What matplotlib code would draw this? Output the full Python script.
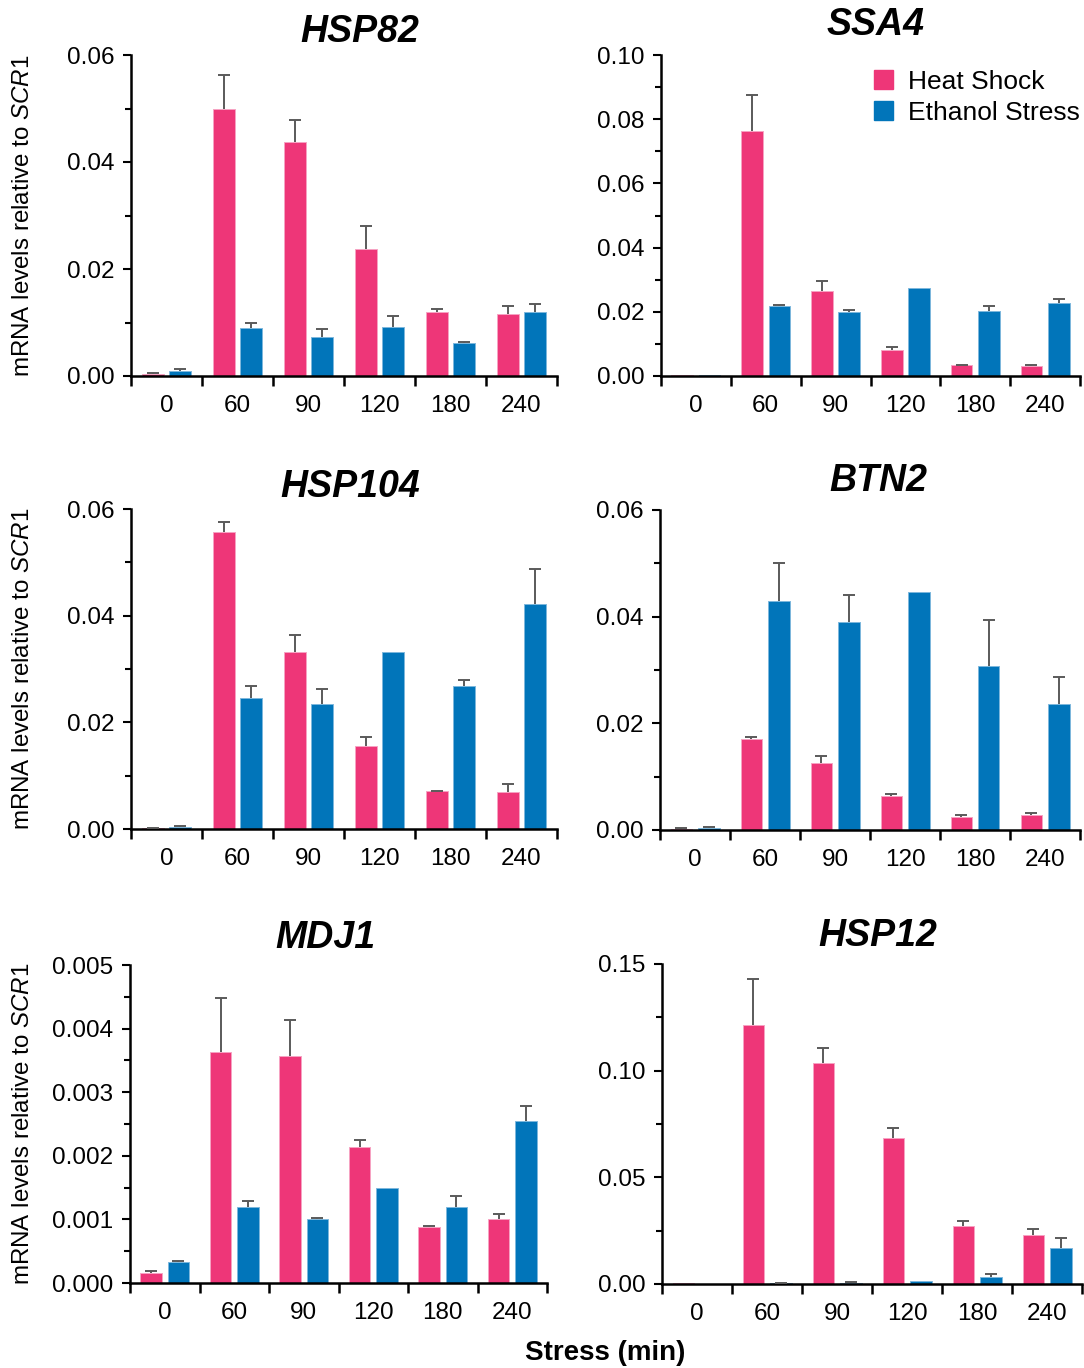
import numpy as np
import matplotlib
matplotlib.use('Agg')
import matplotlib.pyplot as plt
from matplotlib.ticker import MultipleLocator, FormatStrFormatter

plt.rcParams['font.family'] = ['Liberation Sans', 'DejaVu Sans']
plt.rcParams['mathtext.fontset'] = 'custom'
plt.rcParams['mathtext.rm'] = 'Liberation Sans'
plt.rcParams['mathtext.it'] = 'Liberation Sans:italic'

times = ['0', '60', '90', '120', '180', '240']

# HSP82
hsp82_hs = [0.0004, 0.0500, 0.0437, 0.0238, 0.0120, 0.0115]
hsp82_hs_err = [0.00016, 0.0062, 0.0042, 0.0042, 0.0005, 0.0015]
hsp82_et = [0.00093, 0.0090, 0.0072, 0.0092, 0.0062, 0.0119]
hsp82_et_err = [0.0003, 0.0010, 0.0016, 0.0021, 0.0002, 0.0016]

# SSA4
ssa4_hs = [0.0002, 0.0763, 0.0266, 0.0082, 0.0033, 0.0030]
ssa4_hs_err = [0, 0.0111, 0.0029, 0.0007, 0.0002, 0.0003]
ssa4_et = [0.0002, 0.0217, 0.0199, 0.0275, 0.0202, 0.0228]
ssa4_et_err = [0, 0.0003, 0.0006, 0, 0.0017, 0.0012]

# HSP104
hsp104_hs = [0.0002, 0.0557, 0.0331, 0.0156, 0.0071, 0.0070]
hsp104_hs_err = [0.00005, 0.0019, 0.0032, 0.0017, 0.0001, 0.0014]
hsp104_et = [0.00044, 0.0246, 0.0234, 0.0332, 0.0269, 0.0422]
hsp104_et_err = [0.00012, 0.0023, 0.0029, 0, 0.0011, 0.0066]

# BTN2
btn2_hs = [0.0001, 0.0170, 0.0125, 0.0064, 0.0025, 0.0028]
btn2_hs_err = [0.0002, 0.0005, 0.0013, 0.0004, 0.0003, 0.0003]
btn2_et = [0.0003, 0.0430, 0.0390, 0.0446, 0.0307, 0.0237]
btn2_et_err = [0.0003, 0.0070, 0.0051, 0, 0.0087, 0.0050]

# MDJ1
mdj1_hs = [0.000157, 0.003636, 0.003562, 0.002135, 0.000876, 0.001013]
mdj1_hs_err = [0.000037, 0.000839, 0.000572, 0.000121, 0.000021, 0.000078]
mdj1_et = [0.000325, 0.001191, 0.001002, 0.001495, 0.001196, 0.00255]
mdj1_et_err = [0.000021, 0.0001, 0.000021, 0, 0.000168, 0.000236]

# HSP12
hsp12_hs = [0.0003, 0.1216, 0.1034, 0.0683, 0.0270, 0.0230]
hsp12_hs_err = [0, 0.0214, 0.0071, 0.0048, 0.0025, 0.0026]
hsp12_et = [0.0002, 0.0003, 0.0006, 0.0014, 0.0031, 0.0169]
hsp12_et_err = [0, 0.0001, 0.0005, 0, 0.0014, 0.0048]

PINK = '#EE3678'
BLUE = '#0175BA'
W, H = 1084, 1368


def px_box(left, right, top, bottom):
    # pixel box -> figure fraction
    return [left / W, 1 - bottom / H, (right - left) / W, (bottom - top) / H]


def draw_panel(ax, hs, hs_err, et, et_err, ymax, step, fmt):
    x = np.arange(len(times))
    w = 0.31
    off = 0.195
    ax.bar(x - off, hs, w, color=PINK, edgecolor='#F6A3C3', linewidth=0.7, zorder=2)
    ax.bar(x + off, et, w, color=BLUE, edgecolor='#7DB7DD', linewidth=0.7, zorder=2)
    # only upper error bars, skip the ones without error
    for xs, vals, errs in [(x - off, hs, hs_err), (x + off, et, et_err)]:
        vals = np.array(vals)
        errs = np.array(errs)
        m = errs > 0
        eb = ax.errorbar(xs[m], vals[m], yerr=[np.zeros(m.sum()), errs[m]], fmt='none',
                         ecolor='#5A5A5A', elinewidth=1.4, capsize=4.5, capthick=1.4, zorder=3)
        # hide the lower cap sitting on the bar top
        eb[1][0].set_visible(False)

    ax.set_xlim(-0.5, len(times) - 0.5)
    ax.set_ylim(0, ymax)
    ax.yaxis.set_major_locator(MultipleLocator(step))
    ax.yaxis.set_minor_locator(MultipleLocator(step / 2))
    ax.yaxis.set_major_formatter(FormatStrFormatter(fmt))

    ax.set_xticks(np.arange(-0.5, len(times), 1))
    ax.set_xticklabels([])
    ax.set_xticks(x, minor=True)
    ax.set_xticklabels(times, minor=True)
    ax.tick_params(axis='x', which='major', length=7, width=1.8, direction='out')
    ax.tick_params(axis='x', which='minor', length=0, labelsize=17.5, pad=14)
    ax.tick_params(axis='y', which='major', length=6, width=1.5, labelsize=17.5, pad=6)
    ax.tick_params(axis='y', which='minor', length=4, width=1.5)

    for s in ['top', 'right']:
        ax.spines[s].set_visible(False)
    for s in ['left', 'bottom']:
        ax.spines[s].set_linewidth(1.8)


fig = plt.figure(figsize=(W / 100, H / 100), dpi=100)

panels = [
    ('HSP82', hsp82_hs, hsp82_hs_err, hsp82_et, hsp82_et_err, 0.06, 0.02, '%.2f', (131, 557, 55, 376), (360, 32)),
    ('SSA4', ssa4_hs, ssa4_hs_err, ssa4_et, ssa4_et_err, 0.10, 0.02, '%.2f', (661, 1080, 55, 376), (876, 25)),
    ('HSP104', hsp104_hs, hsp104_hs_err, hsp104_et, hsp104_et_err, 0.06, 0.02, '%.2f', (131, 557, 509, 829), (350, 487)),
    ('BTN2', btn2_hs, btn2_hs_err, btn2_et, btn2_et_err, 0.06, 0.02, '%.2f', (660, 1080, 510, 830), (878, 481)),
    ('MDJ1', mdj1_hs, mdj1_hs_err, mdj1_et, mdj1_et_err, 0.005, 0.001, '%.3f', (130, 547, 965, 1283), (325, 938)),
    ('HSP12', hsp12_hs, hsp12_hs_err, hsp12_et, hsp12_et_err, 0.15, 0.05, '%.2f', (662, 1082, 964, 1284), (878, 936)),
]

for i, (name, hs, hs_err, et, et_err, ymax, step, fmt, box, tpos) in enumerate(panels):
    ax = fig.add_axes(px_box(*box))
    draw_panel(ax, hs, hs_err, et, et_err, ymax, step, fmt)
    fig.text(tpos[0] / W, 1 - tpos[1] / H, name, ha='center', va='center',
             fontsize=27, fontweight='bold', fontstyle='italic')
    if i % 2 == 0:
        yc = (box[2] + box[3]) / 2
        fig.text(23 / W, 1 - yc / H, r'mRNA levels relative to $\mathit{SCR1}$',
                 rotation=90, ha='center', va='center', fontsize=17.4)

# legend inside SSA4 panel
h1 = plt.Rectangle((0, 0), 1, 1, color=PINK)
h2 = plt.Rectangle((0, 0), 1, 1, color=BLUE)
fig.legend([h1, h2], ['Heat Shock', 'Ethanol Stress'], loc='upper left',
           bbox_to_anchor=(874 / W, 1 - 70 / H), frameon=False, fontsize=19,
           handlelength=0.72, handleheight=0.72, handletextpad=0.55,
           labelspacing=0.25, borderpad=0, borderaxespad=0)

fig.text(605 / W, 1 - 1353 / H, 'Stress (min)', ha='center', va='center',
         fontsize=20, fontweight='bold')

fig.savefig('out.png', dpi=100)
